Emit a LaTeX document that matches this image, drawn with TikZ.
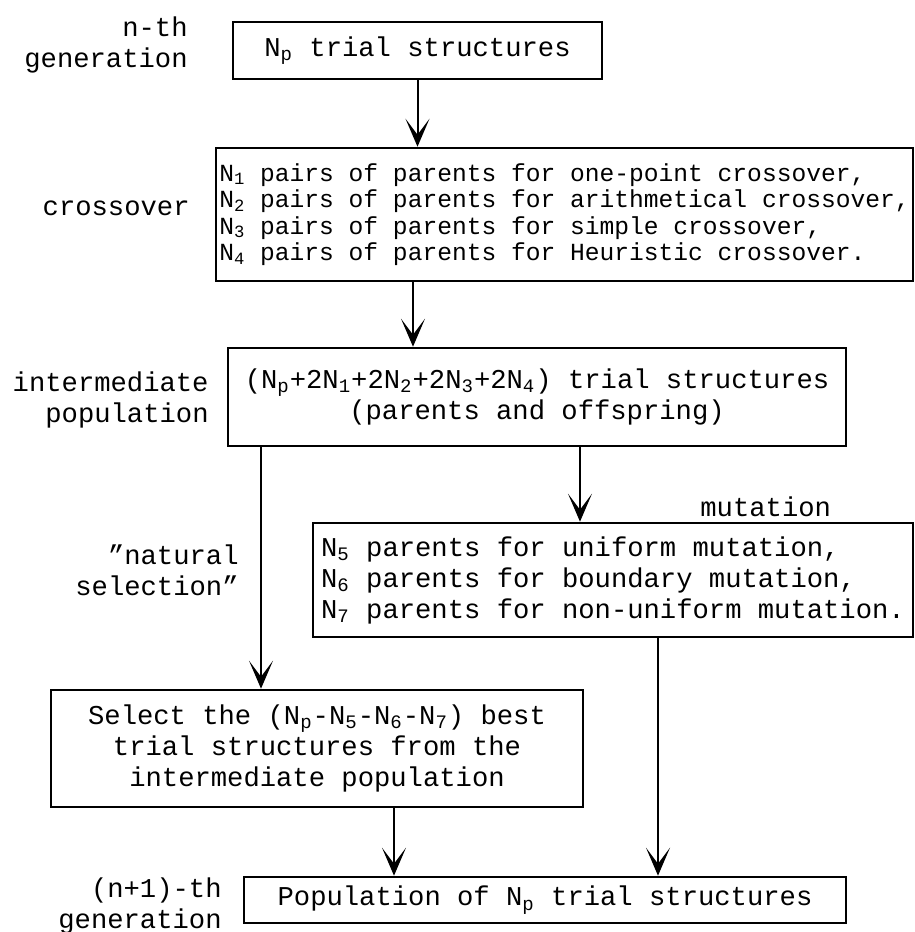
\documentclass[tikz,border=0pt]{standalone}
\usepackage{fontspec}
\setmainfont{Liberation Mono}
\usepackage{tikz}
\usetikzlibrary{arrows.meta,positioning,calc}
\newcommand{\Nsb}[1]{N\textsubscript{#1}}
\newcommand{\gafont}{\fontsize{13.6pt}{15.5pt}\selectfont}
\newcommand{\gasmall}{\fontsize{12.3pt}{13.25pt}\selectfont}

\begin{document}
\begin{tikzpicture}[x=0.5pt,y=-0.5pt,
  stage/.style={draw,line width=1.3pt,align=center,inner sep=1pt,font=\gafont},
  side/.style={anchor=east,align=right,inner sep=0pt,font=\gafont},
  flow/.style={line width=1pt,-{Stealth[length=14pt,width=12pt,inset=8pt]}}
]
\useasboundingbox (0,0) rectangle (915,932);
\node[stage,minimum width=184.5pt,minimum height=28.5pt] (gen) at (417.5,50.5) {\Nsb{p} trial structures};
\node[stage,align=left,font=\gasmall,minimum width=348.5pt,minimum height=66.5pt] (cross) at (564.5,214.5) {\Nsb{1} pairs of parents for one-point crossover,\\\Nsb{2} pairs of parents for arithmetical crossover,\\\Nsb{3} pairs of parents for simple crossover,\\\Nsb{4} pairs of parents for Heuristic crossover.};
\node[stage,minimum width=309pt,minimum height=49pt] (inter) at (537,397) {(\Nsb{p}+2\Nsb{1}+2\Nsb{2}+2\Nsb{3}+2\Nsb{4}) trial structures\\(parents and offspring)};
\node[stage,align=left,minimum width=300pt,minimum height=57pt] (mut) at (613,580) {\Nsb{5} parents for uniform mutation,\\\Nsb{6} parents for boundary mutation,\\\Nsb{7} parents for non-uniform mutation.};
\node[stage,minimum width=266pt,minimum height=58.5pt] (sel) at (317,748.5) {Select the (\Nsb{p}-\Nsb{5}-\Nsb{6}-\Nsb{7}) best\\trial structures from the\\intermediate population};
\node[stage,minimum width=301pt,minimum height=23pt] (next) at (545,900) {Population of \Nsb{p} trial structures};

\node[side] (lgen) at (188,45) {n-th\\generation};
\node[side] (lcross) at (190,208) {crossover};
\node[side] (linter) at (209,400) {intermediate\\population};
\node[side,anchor=west] (lmut) at (700,507) {mutation};
\node[side] (lsel) at (239,570) {"natural\\selection"};
\node[side] (lnext) at (222,906) {(n+1)-th\\generation};

\coordinate (ca) at (413,0);
\coordinate (cb) at (261,0);
\coordinate (cc) at (580,0);
\coordinate (cd) at (658,0);
\coordinate (ce) at (394,0);
\draw[flow] (gen.south) -- (gen.south |- cross.north);
\draw[flow] (ca |- cross.south) -- (ca |- inter.north);
\draw[flow] (cb |- inter.south) -- (cb |- sel.north);
\draw[flow] (cc |- inter.south) -- (cc |- mut.north);
\draw[flow] (cd |- mut.south) -- (cd |- next.north);
\draw[flow] (ce |- sel.south) -- (ce |- next.north);
\end{tikzpicture}
\end{document}
